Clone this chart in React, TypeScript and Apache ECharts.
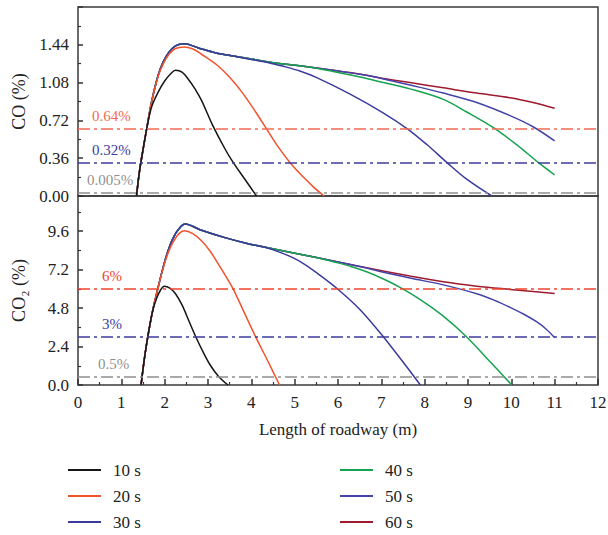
import React, { useEffect, useRef } from "react";
import * as echarts from "echarts";

// ---------- data (x in m, y in %) ----------
const X_TICKS_MAX = 12;

const CO_10 = [[1.35, 0], [1.42, 0.24], [1.5, 0.44], [1.585, 0.64], [1.7, 0.85], [1.85, 0.99], [2.0, 1.095], [2.14, 1.165], [2.25, 1.197], [2.4, 1.18], [2.55, 1.11], [2.7, 1.02], [2.85, 0.91], [3.1, 0.68], [3.39, 0.45], [3.58, 0.32], [3.85, 0.16], [4.12, 0]];
const CO_20 = [[1.35, 0], [1.42, 0.24], [1.5, 0.44], [1.585, 0.64], [1.7, 0.9], [1.85, 1.14], [1.97, 1.26], [2.1, 1.35], [2.25, 1.405], [2.45, 1.42], [2.65, 1.4], [2.85, 1.35], [3.2, 1.25], [3.5, 1.13], [3.8, 0.98], [4.1, 0.8], [4.35, 0.64], [4.6, 0.48], [4.89, 0.32], [5.2, 0.18], [5.45, 0.08], [5.68, 0]];
const CO_30 = [[1.35, 0], [1.42, 0.24], [1.5, 0.44], [1.585, 0.64], [1.7, 0.9], [1.85, 1.15], [1.97, 1.28], [2.1, 1.37], [2.25, 1.43], [2.45, 1.45], [2.78, 1.41], [3.16, 1.365], [3.62, 1.33], [4.0, 1.3], [4.4, 1.27], [4.74, 1.235], [5.12, 1.19], [5.51, 1.127], [6.28, 0.97], [7.05, 0.79], [7.6, 0.64], [8.05, 0.49], [8.51, 0.32], [8.97, 0.16], [9.55, 0]];
const CO_40 = [[1.35, 0], [1.42, 0.24], [1.5, 0.44], [1.585, 0.64], [1.7, 0.9], [1.85, 1.15], [1.97, 1.28], [2.1, 1.37], [2.25, 1.43], [2.45, 1.45], [2.78, 1.41], [3.16, 1.365], [3.62, 1.33], [4.0, 1.305], [4.5, 1.27], [5.12, 1.24], [5.6, 1.21], [5.89, 1.185], [6.66, 1.12], [7.05, 1.08], [7.66, 1.02], [8.43, 0.92], [8.97, 0.8], [9.55, 0.66], [10.12, 0.49], [10.62, 0.32], [11.0, 0.2]];
const CO_50 = [[1.35, 0], [1.42, 0.24], [1.5, 0.44], [1.585, 0.64], [1.7, 0.9], [1.85, 1.15], [1.97, 1.28], [2.1, 1.37], [2.25, 1.43], [2.45, 1.45], [2.78, 1.41], [3.16, 1.365], [3.62, 1.33], [4.0, 1.305], [4.5, 1.27], [5.12, 1.24], [5.89, 1.197], [6.66, 1.15], [7.05, 1.115], [7.66, 1.057], [8.43, 0.98], [9.2, 0.89], [9.97, 0.765], [10.51, 0.657], [11.0, 0.524]];
const CO_60 = [[1.35, 0], [1.42, 0.24], [1.5, 0.44], [1.585, 0.64], [1.7, 0.9], [1.85, 1.15], [1.97, 1.28], [2.1, 1.37], [2.25, 1.43], [2.45, 1.45], [2.78, 1.41], [3.16, 1.365], [3.62, 1.33], [4.0, 1.305], [4.5, 1.27], [5.12, 1.24], [5.89, 1.197], [6.66, 1.15], [7.05, 1.12], [7.66, 1.08], [8.43, 1.03], [9.2, 0.98], [9.97, 0.936], [10.5, 0.89], [11.0, 0.835]];

const CO2_10 = [[1.455, 0], [1.53, 1.6], [1.61, 3.0], [1.72, 4.6], [1.82, 5.45], [1.9, 5.9], [1.99, 6.17], [2.12, 6.05], [2.25, 5.7], [2.4, 5.0], [2.56, 4.0], [2.72, 3.0], [2.88, 2.1], [3.05, 1.25], [3.24, 0.55], [3.46, 0]];
const CO2_20 = [[1.455, 0], [1.53, 1.6], [1.61, 3.0], [1.72, 4.6], [1.84, 6.0], [1.96, 7.25], [2.08, 8.25], [2.2, 8.95], [2.33, 9.45], [2.45, 9.63], [2.65, 9.45], [2.85, 9.0], [3.05, 8.35], [3.25, 7.5], [3.42, 6.75], [3.58, 6.0], [3.84, 4.5], [4.1, 3.0], [4.38, 1.5], [4.65, 0]];
const CO2_30 = [[1.455, 0], [1.53, 1.6], [1.61, 3.0], [1.72, 4.6], [1.84, 6.0], [1.96, 7.3], [2.08, 8.4], [2.2, 9.2], [2.33, 9.75], [2.47, 10.05], [2.85, 9.66], [3.39, 9.2], [3.97, 8.79], [4.32, 8.6], [4.74, 8.2], [5.12, 7.72], [5.51, 7.0], [6.01, 5.95], [6.51, 4.7], [7.05, 3.0], [7.51, 1.4], [7.9, 0]];
const CO2_40 = [[1.455, 0], [1.53, 1.6], [1.61, 3.0], [1.72, 4.6], [1.84, 6.0], [1.96, 7.3], [2.08, 8.4], [2.2, 9.2], [2.33, 9.75], [2.47, 10.05], [2.85, 9.66], [3.39, 9.2], [3.97, 8.79], [4.32, 8.6], [5.12, 8.17], [5.6, 7.9], [5.89, 7.7], [6.3, 7.4], [6.66, 7.07], [7.05, 6.62], [7.43, 6.1], [7.89, 5.35], [8.43, 4.3], [8.97, 3.0], [9.51, 1.45], [10.01, 0]];
const CO2_50 = [[1.455, 0], [1.53, 1.6], [1.61, 3.0], [1.72, 4.6], [1.84, 6.0], [1.96, 7.3], [2.08, 8.4], [2.2, 9.2], [2.33, 9.75], [2.47, 10.05], [2.85, 9.66], [3.39, 9.2], [3.97, 8.79], [4.32, 8.6], [5.12, 8.17], [5.89, 7.74], [6.66, 7.3], [7.05, 7.04], [7.66, 6.68], [8.43, 6.25], [9.2, 5.7], [9.6, 5.3], [9.97, 4.85], [10.3, 4.4], [10.58, 3.95], [10.8, 3.5], [11.0, 2.95]];
const CO2_60 = [[1.455, 0], [1.53, 1.6], [1.61, 3.0], [1.72, 4.6], [1.84, 6.0], [1.96, 7.3], [2.08, 8.4], [2.2, 9.2], [2.33, 9.75], [2.47, 10.05], [2.85, 9.66], [3.39, 9.2], [3.97, 8.79], [4.32, 8.6], [5.12, 8.17], [5.89, 7.74], [6.66, 7.32], [7.66, 6.8], [8.43, 6.44], [9.2, 6.17], [9.97, 5.97], [11.0, 5.72]];

const SERIES_NAMES = ["10 s", "20 s", "30 s", "40 s", "50 s", "60 s"];
const SERIES_COLORS = ["#161616", "#f2522e", "#3b3b9e", "#16a34f", "#4343aa", "#9e1a2e"];
const CO_DATA = [CO_10, CO_20, CO_30, CO_40, CO_50, CO_60];
const CO2_DATA = [CO2_10, CO2_20, CO2_30, CO2_40, CO2_50, CO2_60];

// threshold lines
const CO_LIMITS = [0.64, 0.32, 0.025];
const CO_LIMIT_LABELS = ["0.64%", "0.32%", "0.005%"];
const CO2_LIMITS = [6, 3, 0.5];
const CO2_LIMIT_LABELS = ["6%", "3%", "0.5%"];
const LIMIT_COLORS_CO = ["#f26b50", "#3c3c9e", "#8f8f8f"];
const LIMIT_COLORS_CO2 = ["#f0452c", "#3c3c9e", "#8f8f8f"];
const CO_LABEL_DX = [14, 14, 9];
const CO2_LABEL_DX = [24, 24, 20];

const FONT = "Liberation Serif";

export default function App() {
  const ref = useRef<HTMLDivElement>(null);
  useEffect(() => {
    document.body.style.margin = "0";
    const chart = echarts.init(ref.current!, null, { renderer: "svg" });
    const dash = [12, 4, 3, 4];
    const mkLine = (vals: number[], labels: string[], colors: string[], dxs: number[]) => ({
      silent: true,
      symbol: "none",
      animation: false,
      data: vals.map((v, i) => ({
        yAxis: v,
        lineStyle: { color: colors[i], type: dash, width: 1.5 },
        label: {
          show: true,
          formatter: labels[i],
          position: "insideStartTop",
          distance: [dxs[i], 5],
          color: colors[i],
          fontFamily: FONT,
          fontSize: 15,
        },
      })),
    });

    const series: any[] = [];
    for (let i = SERIES_NAMES.length - 1; i >= 0; i--) {
      series.push({
        name: SERIES_NAMES[i],
        type: "line",
        xAxisIndex: 0,
        yAxisIndex: 0,
        data: CO_DATA[i],
        symbol: "none",
        smooth: 0.35,
        color: SERIES_COLORS[i],
        lineStyle: { width: 1.5, color: SERIES_COLORS[i] },
        z: 3,
        markLine: i === 5 ? mkLine(CO_LIMITS, CO_LIMIT_LABELS, LIMIT_COLORS_CO, CO_LABEL_DX) : undefined,
      });
      series.push({
        name: SERIES_NAMES[i],
        type: "line",
        xAxisIndex: 1,
        yAxisIndex: 1,
        data: CO2_DATA[i],
        symbol: "none",
        smooth: 0.35,
        color: SERIES_COLORS[i],
        lineStyle: { width: 1.5, color: SERIES_COLORS[i] },
        z: 3,
        markLine: i === 5 ? mkLine(CO2_LIMITS, CO2_LIMIT_LABELS, LIMIT_COLORS_CO2, CO2_LABEL_DX) : undefined,
      });
    }

    const axisText = { fontFamily: FONT, fontSize: 17, color: "#222" };
    const nameText = { fontFamily: FONT, fontSize: 18, color: "#222" };
    const legendCommon = {
      orient: "vertical",
      top: 461,
      padding: 0,
      height: 90,
      icon: "rect",
      itemWidth: 33,
      itemHeight: 2,
      itemGap: 8,
      textStyle: { ...axisText, padding: [0, 0, 0, 7], lineHeight: 18 },
      selectedMode: false,
    };
    const gridCommon = {
      left: 78, right: 10, height: 189, show: true,
      borderColor: "#3a3a3a", borderWidth: 1.5, backgroundColor: "transparent",
      containLabel: false, outerBoundsMode: "none",
    };

    chart.setOption({
      animation: false,
      textStyle: { fontFamily: FONT },
      grid: [
        { ...gridCommon, top: 7 },
        { ...gridCommon, top: 196 },
      ],
      legend: [
        { ...legendCommon, left: 68, data: SERIES_NAMES.slice(0, 3) },
        { ...legendCommon, left: 340, data: SERIES_NAMES.slice(3, 6) },
      ],
      xAxis: [
        {
          type: "value", gridIndex: 0, min: 0, max: X_TICKS_MAX, interval: 1,
          axisLine: { show: false }, axisTick: { show: false }, axisLabel: { show: false }, splitLine: { show: false },
        },
        {
          type: "value", gridIndex: 1, min: 0, max: X_TICKS_MAX, interval: 1,
          name: "Length of roadway (m)", nameLocation: "middle", nameGap: 36,
          nameTextStyle: axisText,
          axisLine: { show: false },
          axisTick: { show: true, inside: true, length: 6, lineStyle: { color: "#333", width: 1.5 } },
          minorTick: { show: true, splitNumber: 2, length: 3, lineStyle: { color: "#333", width: 1.2 } },
          axisLabel: { ...axisText, margin: 9 },
          splitLine: { show: false },
        },
      ],
      yAxis: [
        {
          type: "value", gridIndex: 0, min: 0, max: 1.8, interval: 0.36,
          name: "CO (%)", nameLocation: "middle", nameGap: 50, nameRotate: 90,
          nameTextStyle: nameText,
          axisLine: { show: false },
          axisTick: { show: true, inside: true, length: 5, lineStyle: { color: "#333", width: 1.5 } },
          minorTick: { show: true, splitNumber: 2, length: 3, lineStyle: { color: "#333", width: 1.2 } },
          axisLabel: { ...axisText, margin: 9, showMaxLabel: false, formatter: (v: number) => v.toFixed(2) },
          splitLine: { show: false },
        },
        {
          type: "value", gridIndex: 1, min: 0, max: 11.8, interval: 2.4,
          name: "CO₂ (%)", nameLocation: "middle", nameGap: 50, nameRotate: 90,
          nameTextStyle: nameText,
          axisLine: { show: false },
          axisTick: { show: true, inside: true, length: 5, lineStyle: { color: "#333", width: 1.5 } },
          minorTick: { show: true, splitNumber: 2, length: 3, lineStyle: { color: "#333", width: 1.2 } },
          axisLabel: { ...axisText, margin: 9, showMaxLabel: false, formatter: (v: number) => v.toFixed(1) },
          splitLine: { show: false },
        },
      ],
      series,
    });
    return () => chart.dispose();
  }, []);
  return <div ref={ref} style={{ width: 608, height: 535 }} />;
}
